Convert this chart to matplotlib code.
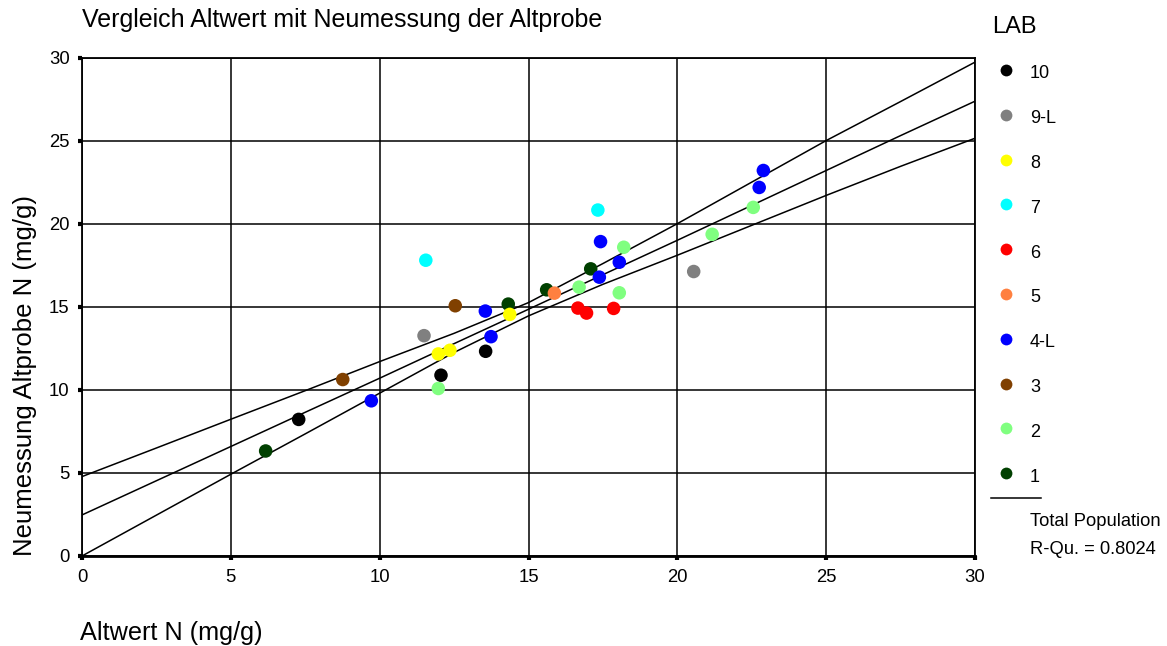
"""
Scatter of old vs. new measurement per lab, with regression line and band.
"""
import matplotlib.pyplot as plt
from matplotlib.lines import Line2D

plt.rcParams["font.family"] = ["Liberation Sans", "DejaVu Sans"]

# lab order as shown in the legend (top -> bottom)
labs = ["10", "9-L", "8", "7", "6", "5", "4-L", "3", "2", "1"]
lab_colors = ["#000000", "#808080", "#FFFF00", "#00FFFF", "#FF0000",
              "#FF8040", "#0000FF", "#804000", "#80FF80", "#004000"]

# Altwert (x) / Neumessung (y) per lab
alt = {
    "10": [7.28, 12.06, 13.56],
    "9-L": [11.49, 20.55],
    "8": [11.97, 12.36, 14.37],
    "7": [11.55, 17.33],
    "6": [16.66, 16.95, 17.86],
    "5": [15.87],
    "4-L": [9.72, 13.55, 13.74, 17.42, 18.05, 17.38, 22.89, 22.75],
    "3": [8.76, 12.54],
    "2": [11.97, 16.70, 18.20, 18.05, 22.55, 21.17],
    "1": [6.17, 14.32, 15.61, 17.09],
}
neu = {
    "10": [8.22, 10.88, 12.32],
    "9-L": [13.26, 17.12],
    "8": [12.16, 12.38, 14.54],
    "7": [17.80, 20.82],
    "6": [14.92, 14.62, 14.90],
    "5": [15.82],
    "4-L": [9.34, 14.74, 13.20, 18.92, 17.68, 16.78, 23.20, 22.18],
    "3": [10.62, 15.06],
    "2": [10.08, 16.18, 18.58, 15.84, 20.98, 19.36],
    "1": [6.32, 15.16, 16.02, 17.28],
}

# regression line and band
fit_x = [0, 2.5, 5, 7.5, 10, 12.5, 15, 17.5, 20, 22.5, 25, 27.5, 30]
fit_upper = [4.78, 6.50, 8.23, 9.95, 11.70, 13.40, 15.25, 17.60, 20.00, 22.50, 25.00, 27.35, 29.72]
fit_mid = [2.47, 4.53, 6.59, 8.65, 10.70, 12.78, 14.85, 16.93, 19.00, 21.10, 23.20, 25.30, 27.37]
fit_lower = [0.00, 2.46, 4.92, 7.35, 9.80, 12.25, 14.45, 16.35, 18.10, 19.90, 21.70, 23.45, 25.14]

r_squared = 0.8024
ticks = [0, 5, 10, 15, 20, 25, 30]

W, H = 1167, 646
fig = plt.figure(figsize=(W / 100, H / 100), dpi=100)
ax = fig.add_axes([82 / W, 1 - 556 / H, (975 - 82) / W, (556 - 57.5) / H])

ax.set_xlim(0, 30)
ax.set_ylim(0, 30)
ax.set_xticks(ticks)
ax.set_yticks(ticks)
ax.grid(True, color="black", linewidth=1.1)
ax.set_axisbelow(True)
for sp in ax.spines.values():
    sp.set_linewidth(1.3)
ax.spines["bottom"].set_linewidth(2)
ax.tick_params(direction="out", length=3, width=3, labelsize=13.3, pad=6)

for y in (fit_upper, fit_mid, fit_lower):
    ax.plot(fit_x, y, color="black", linewidth=1.1, zorder=2)

# draw lab 1 first so higher lab numbers sit on top
for lab in reversed(labs):
    c = lab_colors[labs.index(lab)]
    ax.scatter(alt[lab], neu[lab], s=95, color=c, edgecolors="none", zorder=3)

fig.text(82 / W, 1 - 20 / H, "Vergleich Altwert mit Neumessung der Altprobe",
         fontsize=18, ha="left", va="center")
fig.text(80 / W, 1 - 633 / H, "Altwert N (mg/g)", fontsize=18.2, ha="left", va="center")
fig.text(25 / W, 1 - 376 / H, "Neumessung Altprobe N (mg/g)", fontsize=18.5,
         rotation=90, ha="center", va="center")

# legend, placed by hand
fig.text(992 / W, 1 - 27 / H, "LAB", fontsize=17, ha="left", va="center")
for i, (lab, c) in enumerate(zip(labs, lab_colors)):
    yy = 70 + i * 44.8
    fig.add_artist(Line2D([1006 / W], [1 - yy / H], marker="o", markersize=8.5,
                          color=c, markeredgecolor="none", linestyle="none",
                          transform=fig.transFigure))
    fig.text(1030 / W, 1 - (yy + 4) / H, lab, fontsize=13, ha="left", va="center")
fig.add_artist(Line2D([991 / W, 1041 / W], [1 - 498 / H, 1 - 498 / H],
                      color="black", linewidth=1.1, transform=fig.transFigure))
fig.text(1030 / W, 1 - 522 / H, "Total Population", fontsize=13.2, ha="left", va="center")
fig.text(1030 / W, 1 - 549 / H, f"R-Qu. = {r_squared:.4f}", fontsize=13.2,
         ha="left", va="center")

fig.savefig("out.png", dpi=100, facecolor="white")
